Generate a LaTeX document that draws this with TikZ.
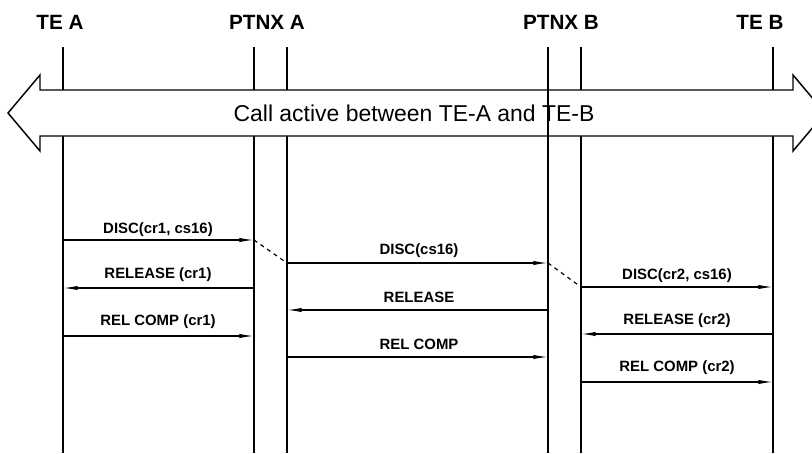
\documentclass[tikz,border=0pt]{standalone}
\usepackage{fontspec}
\setmainfont{Liberation Sans}
\usetikzlibrary{arrows.meta}
\begin{document}
\begin{tikzpicture}[x=0.75pt,y=-0.75pt,
  hdr/.style={font=\fontsize{15.5pt}{18pt}\selectfont\bfseries, inner sep=0pt},
  lbl/.style={font=\fontsize{11.2pt}{13pt}\selectfont\bfseries, inner sep=0pt},
  biglbl/.style={font=\fontsize{17.2pt}{20pt}\selectfont, inner sep=0pt},
  life/.style={line width=1.6pt},
  msg/.style={line width=0.9pt, -{Latex[length=11pt,width=3.2pt]}},
  dsh/.style={line width=0.9pt, dash pattern=on 3pt off 3pt},
  bigarrow/.style={draw, fill=white, line width=1.1pt, line join=miter}]
\useasboundingbox (0,0) rectangle (812,453);
\clip (0,0) rectangle (812,453);
% headers
\node[hdr] (hA) at (60,22) {TE A};
\node[hdr] (hPA) at (267,22) {PTNX A};
\node[hdr] (hPB) at (561,22) {PTNX B};
\node[hdr] (hB) at (760,22) {TE B};
% lifeline anchors
\coordinate (A) at (63,47);
\coordinate (PA1) at (254,47);
\coordinate (PA2) at (287,47);
\coordinate (PB1) at (548,47);
\coordinate (PB2) at (581,47);
\coordinate (B) at (773,47);
\foreach \c in {A,PA1,PA2,PB1,PB2,B}{
  \draw[life] (\c) -- (\c |- 0,453);
}
% big arrow
\path[bigarrow] (40,90) -- (40,75) -- (8,113) -- (40,151) -- (40,136) -- (793,136) -- (793,151) -- (825,113) -- (793,75) -- (793,90) -- cycle;
\draw[life] (PB1 |- 0,89) -- (PB1 |- 0,137);
\node[biglbl] (call) at (414,113) {Call active between TE-A and TE-B};
% messages left
\draw[msg] (A |- 0,240) -- (PA1 |- 0,240);
\node[lbl] at (158,230) {DISC(cr1, cs16)};
\draw[msg] (PA1 |- 0,288) -- (A |- 0,288);
\node[lbl] at (158,275) {RELEASE (cr1)};
\draw[msg] (A |- 0,336) -- (PA1 |- 0,336);
\node[lbl] at (158,322) {REL COMP (cr1)};
% middle
\draw[dsh] (PA1 |- 0,240) -- (PA2 |- 0,263);
\draw[msg] (PA2 |- 0,263) -- (PB1 |- 0,263);
\node[lbl] at (419,251) {DISC(cs16)};
\draw[msg] (PB1 |- 0,310) -- (PA2 |- 0,310);
\node[lbl] at (419,297) {RELEASE};
\draw[msg] (PA2 |- 0,357) -- (PB1 |- 0,357);
\node[lbl] at (419,344) {REL COMP};
% right
\draw[dsh] (PB1 |- 0,263) -- (PB2 |- 0,287);
\draw[msg] (PB2 |- 0,287) -- (B |- 0,287);
\node[lbl] at (677,276) {DISC(cr2, cs16)};
\draw[msg] (B |- 0,334) -- (PB2 |- 0,334);
\node[lbl] at (677,321) {RELEASE (cr2)};
\draw[msg] (PB2 |- 0,382) -- (B |- 0,382);
\node[lbl] at (677,368) {REL COMP (cr2)};
\end{tikzpicture}
\end{document}
